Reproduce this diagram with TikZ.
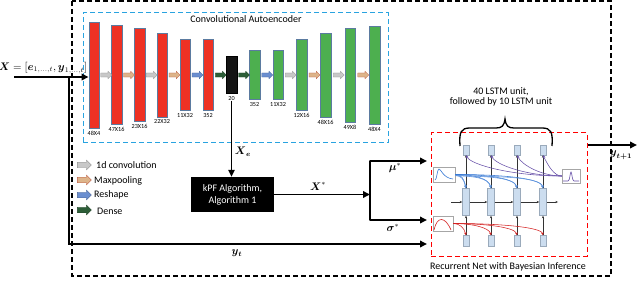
\documentclass[tikz,border=0pt]{standalone}
\usepackage{amsmath}
\usepackage{fontspec}
\setmainfont{Carlito}
\usetikzlibrary{arrows.meta,shapes.arrows,calc}
\definecolor{cblue}{HTML}{29A3E0}
\definecolor{bred}{HTML}{EE3124}
\definecolor{bgreen}{HTML}{4DAF4F}
\definecolor{bedge}{HTML}{5B7BA0}
\definecolor{aconv}{HTML}{C8C8C8}
\definecolor{apool}{HTML}{DDB48A}
\definecolor{aresh}{HTML}{6A8ED0}
\definecolor{adense}{HTML}{2D5E38}
\definecolor{cellfill}{HTML}{CCDDEF}
\definecolor{celledge}{HTML}{9AAABB}
\definecolor{dblue}{HTML}{3A7BD5}
\definecolor{dred}{HTML}{D42020}
\definecolor{dpurple}{HTML}{6750A8}
\begin{document}
\begin{tikzpicture}[x=1pt,y=-1pt,
  bar/.style={draw=bedge,line width=0.4pt,minimum width=10.5pt,inner sep=0pt},
  enc/.style={bar,fill=bred},
  dec/.style={bar,fill=bgreen},
  lat/.style={bar,fill=black!92,draw=black},
  dim/.style={font=\fontsize{6.2}{7}\selectfont,inner sep=0pt,anchor=north},
  blk/.style={single arrow,single arrow head extend=1.8pt,minimum height=11pt,minimum width=7.5pt,inner xsep=0pt,inner ysep=1.9pt,line width=0.3pt},
  conv/.style={blk,fill=aconv,draw=aconv!70!black},
  pool/.style={blk,fill=apool,draw=apool!60!red!80!black},
  resh/.style={blk,fill=aresh,draw=aresh!70!black},
  dense/.style={blk,fill=adense,draw=adense!70!black},
  big/.style={minimum height=14pt,minimum width=9.5pt,inner ysep=2.6pt,single arrow head extend=2.2pt},
  legtext/.style={font=\fontsize{10}{11}\selectfont,anchor=west,inner sep=0pt},
  thick line/.style={line width=1.8pt},
  tip/.style={-{Triangle[length=7pt,width=6.5pt]}},
  mlabel/.style={font=\fontsize{10.5}{12}\selectfont,inner sep=0pt},
  cell/.style={draw=celledge,fill=cellfill,line width=0.4pt,inner sep=0pt},
  thin/.style={line width=0.4pt,black!80,-{Stealth[length=2.6pt,width=2.2pt]}},
  icon/.style={draw=black!35,fill=white,line width=0.4pt,inner sep=0pt},
  curv/.style={line width=0.55pt,-{Stealth[length=3pt,width=2.6pt]}}
]
\useasboundingbox (0,0) rectangle (640,294);

% outer dashed box
\draw[line width=1.4pt,dash pattern=on 5pt off 3pt] (72,1) rectangle (611,276);

% autoencoder box
\node[draw=cblue,line width=1pt,dash pattern=on 5pt off 3pt,minimum width=305pt,minimum height=130pt,inner sep=0pt] (cae) at (235.5,78) {};
\node[font=\fontsize{10}{11}\selectfont,inner sep=0pt] (caet) at (246,19) {Convolutional Autoencoder};

% bars
\foreach \n/\x/\h/\c in {b1/94/106/enc,b2/116.5/99/enc,b3/139.5/93/enc,b4/162/84/enc,b5/185/71/enc,b6/208/71/enc,z/231.5/37/lat,g1/254.5/49/dec,g2/278/49/dec,g3/301.5/71/dec,g4/325.5/84/dec,g5/350/94/dec,g6/374.5/98/dec}
  \node[\c,minimum height=\h pt] (\n) at (\x,75) {};

\foreach \n/\t in {b1/48X4,b2/47X16,b3/23X16,b4/22X32,b5/11X32,b6/352,z/20,g1/352,g2/11X32,g3/12X16,g4/48X16,g5/49X8,g6/48X4}
  \node[dim] (l\n) at ([yshift=-2.5pt]\n.south) {\t};

% block arrows between bars
\foreach \a/\b/\s/\k in {b1/b2/conv/1,b2/b3/pool/2,b3/b4/conv/3,b4/b5/pool/4,b5/b6/resh/5,b6/z/dense/6,z/g1/dense/7,g1/g2/resh/8,g2/g3/conv/9,g3/g4/pool/10,g4/g5/conv/11,g5/g6/pool/12}
  \node[\s] (a\k) at ($(\a.east)!0.5!(\b.west)$) {};

% legend
\node[conv,big] (lg1) at (83,165) {};
\node[legtext] (lt1) at (96,165) {1d convolution};
\node[pool,big] (lg2) at (83,180) {};
\node[legtext] (lt2) at (94,181) {Maxpooling};
\node[resh,big] (lg3) at (83,195) {};
\node[legtext] (lt3) at (94,195) {Reshape};
\node[dense,big] (lg4) at (83,210) {};
\node[legtext] (lt4) at (97,211) {Dense};

% input
\node[mlabel] (lx) at (43,68) {$\boldsymbol{X}=[\boldsymbol{e}_{1,\dots,t},\boldsymbol{y}_{1,\dots,t}]$};
\coordinate (xin) at (14,77);
\coordinate (split) at (69,77);
\coordinate (corner) at (69,244);
\coordinate (ytend) at (427,244);
\draw[thick line,tip] (xin) -- (xin -| b1.west);
\draw[thick line,tip] (split) -- (corner) -- (ytend);
\node[mlabel] (lyt) at (237,253) {$\boldsymbol{y}_{\boldsymbol{t}}$};

% kPF
\node[fill=black,text=white,minimum width=83pt,minimum height=35pt,inner sep=0pt,align=center,font=\fontsize{10}{12}\selectfont] (kpf) at (232.5,194.5) {kPF Algorithm,\\Algorithm 1};
\draw[line width=1.4pt,tip] (lz.south) -- (lz.south |- kpf.north);
\node[mlabel] (lxe) at (243,152) {$\boldsymbol{X}_{\boldsymbol{e}}$};

% X* and junction
\coordinate (jt) at (370,161);
\coordinate (jb) at (370,220);
\coordinate (mu) at (427,161);
\coordinate (sig) at (427,220);
\draw[thick line,tip] (kpf.east) -- (kpf.east -| jt);
\node[mlabel] (lxs) at (318,186) {$\boldsymbol{X}^{*}$};
\draw[thick line,line cap=round] (jt) -- (jb);
\draw[thick line,tip] (jt) -- (mu);
\draw[thick line,tip] (jb) -- (sig);
\node[mlabel] (lmu) at (395,168) {$\boldsymbol{\mu}^{*}$};
\node[mlabel] (lsig) at (393,228) {$\boldsymbol{\sigma}^{*}$};

% recurrent net box
\node[draw=red,line width=1pt,dash pattern=on 5pt off 3pt,minimum width=156pt,minimum height=123pt,inner sep=0pt] (rnn) at (509,194.5) {};
\node[font=\fontsize{10}{11}\selectfont,inner sep=0pt] (rnnt) at (508,267) {Recurrent Net with Bayesian Inference};

% output
\coordinate (yout) at (637,145);
\draw[line width=2pt,tip] (rnn.east |- yout) -- (yout);
\node[mlabel] (lyo) at (621,155) {$\boldsymbol{y}_{\boldsymbol{t+1}}$};

% brace and text
\draw[line width=1.3pt] (460,146) .. controls (459,132) and (461,128) .. (470,128) -- (496,128) .. controls (502,128) and (504,126) .. (505,119) .. controls (506,126) and (508,128) .. (514,128) -- (542,128) .. controls (551,128) and (553,132) .. (552,146);
\node[font=\fontsize{10}{11}\selectfont,inner sep=0pt,align=center] (brt) at (501,97) {40 LSTM unit,\\[-0.5pt]followed by 10 LSTM unit};

% LSTM cells
\foreach \i/\x in {1/466,2/491,3/517,4/543}{
  \node[cell,minimum width=6pt,minimum height=10pt] (t\i) at (\x,150) {};
  \node[cell,minimum width=7pt,minimum height=27pt] (m\i) at (\x,202) {};
  \node[cell,minimum width=6pt,minimum height=11pt] (c\i) at (\x,241) {};
  \draw[thin] (c\i.north) -- (m\i.south);
  \draw[thin] (m\i.north) -- (t\i.south);
}
\coordinate (hl) at (451,202);
\coordinate (hr) at (558,202);
\draw[thin] (hl) -- (m1.west);
\draw[thin] (m1.east) -- (m2.west);
\draw[thin] (m2.east) -- (m3.west);
\draw[thin] (m3.east) -- (m4.west);
\draw[thin] (m4.east) -- (hr);

% distribution icons
\node[icon,minimum width=22pt,minimum height=15pt] (bicon) at (444,174.5) {};
\draw[dblue,line width=0.6pt] (435,180) .. controls (437,180) and (437,169) .. (439,169) .. controls (441,169) and (443,178) .. (453,179);
\node[icon,minimum width=20pt,minimum height=15pt] (ricon) at (443,223.5) {};
\draw[dred,line width=0.6pt] (434,230) .. controls (437,216) and (445,216) .. (451,230);
\node[icon,minimum width=18pt,minimum height=14pt] (picon) at (571,176) {};
\draw[dpurple,line width=0.6pt] (563,181) -- (568,181) .. controls (570,181) and (570,172) .. (571,172) .. controls (572,172) and (572,181) .. (574,181) -- (579,181);

% curved arrows
\foreach \i/\d in {1/6,2/18,3/32,4/48}{
  \draw[curv,dblue] (bicon.east) .. controls +(\d,0) and +(-2,-10) .. (m\i.north);
  \draw[curv,dblue!80!white] ([yshift=-1pt]bicon.east) .. controls +(\d,1) and +(-3,-11) .. (m\i.north);
  \draw[curv,dred] (ricon.east) .. controls +(\d,0) and +(-2,-8) .. (c\i.north);
}
\foreach \i/\d in {1/48,2/34,3/20,4/8}{
  \draw[curv,dpurple] (picon.west) .. controls +(-\d,0) and +(5,10) .. (t\i.south);
}
\end{tikzpicture}
\end{document}
